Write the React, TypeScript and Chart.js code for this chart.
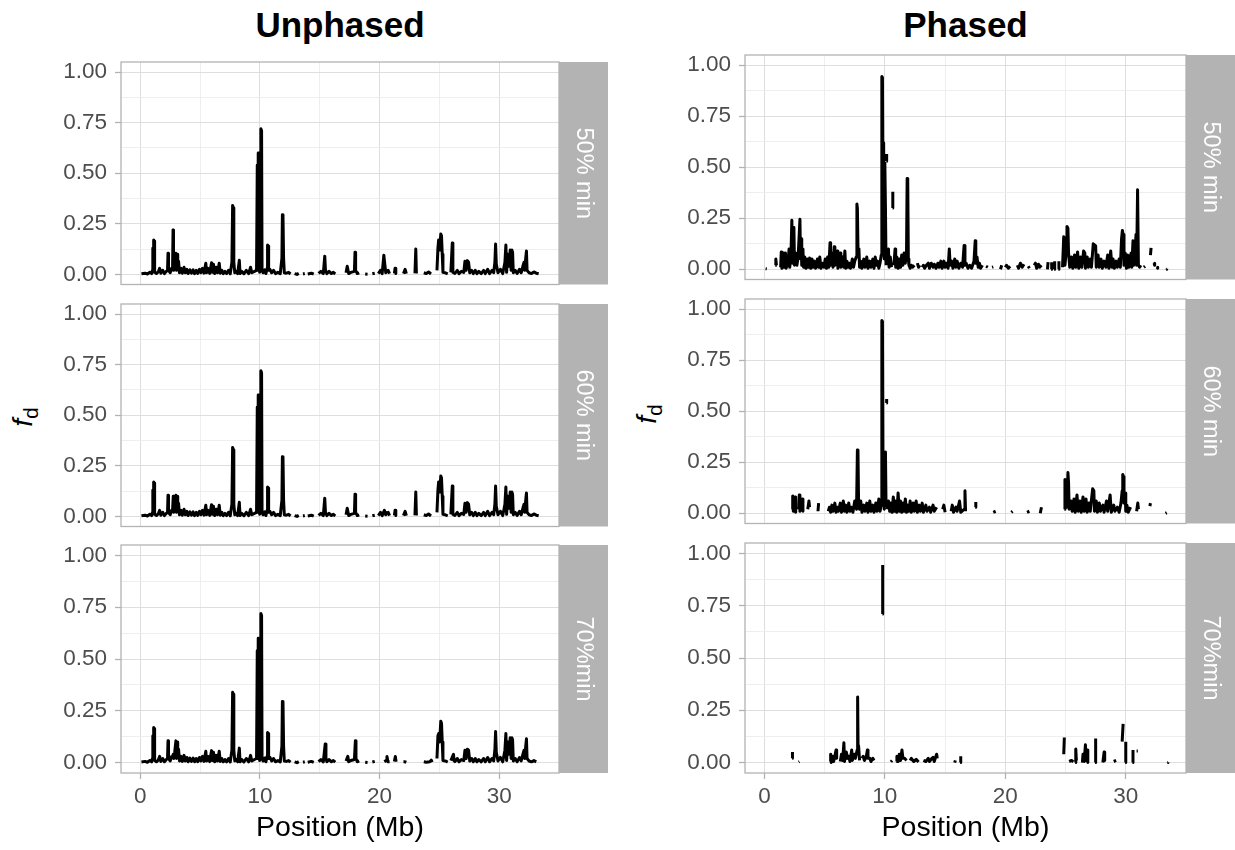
import React, { useEffect, useRef } from 'react';
import { Chart, registerables } from 'chart.js';

Chart.register(...registerables);

type Pt = [number, number | null];

// ---- axis / label data ----
const X_MAJOR = [0, 10, 20, 30];
const X_MINOR = [5, 15, 25];
const Y_MAJOR = [0, 0.25, 0.5, 0.75, 1];
const Y_MINOR = [0.125, 0.375, 0.625, 0.875];
const X_LIMITS = [-1.61, 35.0];
const Y_LIMITS = [-0.05, 1.05];
const STRIPS = ['50% min', '60% min', '70%min'];
const COLUMN_TITLES = ['Unphased', 'Phased'];
const X_TITLE = 'Position (Mb)';

// ---- series: [position (Mb), fd]; null = gap ----
const UNPHASED_50: Pt[] = [
  [0.1,0.003],[0.4,0.006],[0.6,0.002],[0.8,0.01],[0.95,0.004],[1.02,0.02],[1.05,0.13],[1.08,0.02],[1.12,0.17],[1.16,0.165],[1.2,0.01],[1.35,0.004],[1.5,0.012],[1.62,0.03],[1.72,0.006],[1.88,0.02],[2.02,0.004],[2.18,0.015],[2.28,0.02],[2.32,0.105],[2.36,0.02],[2.5,0.008],[2.62,0.03],[2.7,0.03],[2.74,0.22],[2.78,0.02],[2.88,0.05],[2.98,0.105],[3.03,0.02],[3.08,0.1],[3.13,0.04],[3.2,0.065],[3.28,0.008],[3.42,0.03],[3.52,0.006],[3.66,0.035],[3.76,0.008],[3.9,0.025],[4.0,0.004],[4.15,0.022],[4.28,0.006],[4.42,0.022],[4.54,0.004],[4.68,0.02],[4.8,0.005],[4.95,0.025],[5.06,0.008],[5.2,0.03],[5.32,0.006],[5.48,0.055],[5.54,0.008],[5.66,0.03],[5.8,0.005],[5.96,0.058],[6.02,0.01],[6.12,0.05],[6.22,0.004],[6.36,0.035],[6.46,0.008],[6.6,0.055],[6.68,0.006],[6.82,0.02],[6.94,0.004],[7.08,0.015],[7.22,0.004],[7.38,0.02],[7.52,0.003],[7.66,0.06],[7.72,0.34],[7.78,0.33],[7.82,0.06],[7.9,0.008],[8.02,0.015],[8.14,0.004],[8.28,0.07],[8.34,0.004],[8.48,0.015],[8.66,0.003],[8.86,0.02],[9.06,0.004],[9.22,0.035],[9.32,0.008],[9.55,0.015],[9.72,0.02],[9.78,0.54],[9.82,0.02],[9.86,0.6],[9.9,0.28],[9.94,0.59],[9.98,0.01],[10.03,0.55],[10.08,0.72],[10.14,0.71],[10.18,0.02],[10.26,0.008],[10.4,0.022],[10.5,0.004],[10.6,0.03],[10.64,0.145],[10.69,0.14],[10.73,0.02],[10.84,0.025],[10.98,0.008],[11.14,0.02],[11.3,0.004],[11.5,0.01],[11.7,0.003],[11.84,0.08],[11.88,0.295],[11.93,0.29],[11.98,0.08],[12.04,0.008],[12.2,0.006],[12.4,0.01],[12.56,0.002],
  [12.7,null],[12.9,0.004],[13.1,0.0],[13.25,0.005],[13.3,null],[13.6,0.002],[13.75,0.004],[13.8,null],[14.0,0.002],[14.3,0.006],[14.5,0.001],[14.6,null],[14.9,0.005],[15.1,0.015],[15.3,0.004],[15.42,0.09],[15.48,0.02],[15.6,0.004],[15.78,0.015],[15.98,0.004],[16.14,0.01],[16.3,0.002],[16.5,null],[17.2,0.008],[17.3,0.04],[17.42,0.004],[17.6,0.01],[17.9,0.015],[17.95,0.11],[18.0,0.02],[18.14,0.004],[18.3,0.008],[18.5,null],[18.8,0.002],[19.0,0.001],[19.2,null],[19.4,0.003],[19.6,0.006],[19.7,null],[19.9,0.004],[20.08,0.02],[20.22,0.004],[20.36,0.095],[20.42,0.06],[20.52,0.008],[20.72,0.02],[20.84,0.004],[21.0,null],[21.24,0.005],[21.3,0.03],[21.36,0.004],[21.6,null],[22.0,0.004],[22.14,0.025],[22.24,0.004],[22.5,null],[22.96,0.005],[23.03,0.125],[23.08,0.004],[23.3,null],[23.7,0.008],[23.9,0.004],[24.1,0.012],[24.3,0.002],[24.5,null],
  [24.8,0.02],[24.88,0.13],[24.94,0.17],[25.02,0.12],[25.12,0.2],[25.18,0.19],[25.24,0.1],[25.3,0.01],[25.5,0.008],[25.7,0.003],[25.8,null],[25.96,0.01],[26.08,0.155],[26.13,0.01],[26.3,0.005],[26.5,0.02],[26.64,0.004],[26.84,0.015],[27.04,0.01],[27.14,0.065],[27.24,0.02],[27.34,0.068],[27.44,0.06],[27.54,0.008],[27.7,0.02],[27.84,0.004],[28.0,0.02],[28.14,0.004],[28.3,0.015],[28.5,0.004],[28.7,0.02],[28.84,0.004],[29.04,0.025],[29.2,0.004],[29.4,0.02],[29.54,0.008],[29.64,0.06],[29.7,0.15],[29.76,0.05],[29.9,0.008],[30.1,0.025],[30.3,0.004],[30.48,0.06],[30.56,0.145],[30.62,0.01],[30.72,0.1],[30.82,0.04],[30.92,0.12],[31.0,0.02],[31.06,0.12],[31.12,0.11],[31.18,0.008],[31.34,0.02],[31.5,0.004],[31.7,0.025],[31.84,0.008],[31.98,0.04],[32.08,0.06],[32.14,0.02],[32.22,0.08],[32.28,0.116],[32.33,0.02],[32.5,0.008],[32.7,0.004],[32.9,0.012],[33.1,0.006],[33.3,0.003],
];

const UNPHASED_60: Pt[] = [
  [0.1,0.003],[0.4,0.006],[0.6,0.002],[0.8,0.01],[0.95,0.004],[1.02,0.02],[1.05,0.13],[1.08,0.02],[1.12,0.17],[1.16,0.165],[1.2,0.01],[1.35,0.004],[1.5,0.012],[1.62,0.03],[1.72,0.006],[1.88,0.02],[2.02,0.004],[2.18,0.015],[2.28,0.02],[2.32,0.105],[2.36,0.02],[2.5,0.008],[2.62,0.03],[2.7,0.03],[2.76,0.1],[2.8,0.02],[2.88,0.05],[2.98,0.105],[3.03,0.02],[3.08,0.1],[3.13,0.04],[3.2,0.065],[3.28,0.008],[3.42,0.03],[3.52,0.006],[3.66,0.035],[3.76,0.008],[3.9,0.025],[4.0,0.004],[4.15,0.022],[4.28,0.006],[4.42,0.022],[4.54,0.004],[4.68,0.02],[4.8,0.005],[4.95,0.025],[5.06,0.008],[5.2,0.03],[5.32,0.006],[5.48,0.055],[5.54,0.008],[5.66,0.03],[5.8,0.005],[5.96,0.058],[6.02,0.01],[6.12,0.05],[6.22,0.004],[6.36,0.035],[6.46,0.008],[6.6,0.055],[6.68,0.006],[6.82,0.02],[6.94,0.004],[7.08,0.015],[7.22,0.004],[7.38,0.02],[7.52,0.003],[7.66,0.06],[7.72,0.34],[7.78,0.33],[7.82,0.06],[7.9,0.008],[8.02,0.015],[8.14,0.004],[8.28,0.07],[8.34,0.004],[8.48,0.015],[8.66,0.003],[8.86,0.02],[9.06,0.004],[9.22,0.035],[9.32,0.008],[9.55,0.015],[9.72,0.02],[9.78,0.54],[9.82,0.02],[9.86,0.6],[9.9,0.28],[9.94,0.59],[9.98,0.01],[10.03,0.55],[10.08,0.72],[10.14,0.71],[10.18,0.02],[10.26,0.008],[10.4,0.022],[10.5,0.004],[10.6,0.03],[10.64,0.145],[10.69,0.14],[10.73,0.02],[10.84,0.025],[10.98,0.008],[11.14,0.02],[11.3,0.004],[11.5,0.01],[11.7,0.003],[11.84,0.08],[11.88,0.295],[11.93,0.29],[11.98,0.08],[12.04,0.008],[12.2,0.006],[12.4,0.01],[12.56,0.002],
  [12.7,null],[12.9,0.004],[13.1,0.0],[13.25,0.005],[13.3,null],[13.6,0.002],[13.75,0.004],[13.8,null],[14.0,0.002],[14.3,0.006],[14.5,0.001],[14.6,null],[14.9,0.005],[15.1,0.015],[15.3,0.004],[15.42,0.09],[15.48,0.02],[15.6,0.004],[15.78,0.015],[15.98,0.004],[16.14,0.01],[16.3,0.002],[16.5,null],[17.2,0.008],[17.3,0.04],[17.42,0.004],[17.6,0.01],[17.9,0.015],[17.95,0.11],[18.0,0.02],[18.14,0.004],[18.3,0.008],[18.5,null],[18.8,0.002],[19.0,0.001],[19.2,null],[19.4,0.003],[19.6,0.006],[19.7,null],[19.9,0.004],[20.08,0.02],[20.22,0.004],[20.4,0.03],[20.46,0.02],[20.52,0.008],[20.72,0.02],[20.84,0.004],[21.0,null],[21.24,0.005],[21.3,0.03],[21.36,0.004],[21.6,null],[22.0,0.004],[22.14,0.025],[22.24,0.004],[22.5,null],[22.96,0.005],[23.03,0.12],[23.08,0.004],[23.3,null],[23.7,0.008],[23.9,0.004],[24.1,0.012],[24.3,0.002],[24.5,null],
  [24.8,0.02],[24.88,0.13],[24.94,0.17],[25.02,0.12],[25.12,0.2],[25.18,0.19],[25.24,0.1],[25.3,0.01],[25.5,0.008],[25.7,0.003],[25.8,null],[25.96,0.01],[26.08,0.15],[26.13,0.01],[26.3,0.005],[26.5,0.02],[26.64,0.004],[26.84,0.015],[27.04,0.01],[27.14,0.065],[27.24,0.02],[27.34,0.068],[27.44,0.06],[27.54,0.008],[27.7,0.02],[27.84,0.004],[28.0,0.02],[28.14,0.004],[28.3,0.015],[28.5,0.004],[28.7,0.02],[28.84,0.004],[29.04,0.025],[29.2,0.004],[29.4,0.02],[29.54,0.008],[29.64,0.06],[29.7,0.15],[29.76,0.05],[29.9,0.008],[30.1,0.025],[30.3,0.004],[30.48,0.06],[30.56,0.145],[30.62,0.01],[30.72,0.1],[30.82,0.04],[30.92,0.12],[31.0,0.02],[31.06,0.12],[31.12,0.11],[31.18,0.008],[31.34,0.02],[31.5,0.004],[31.7,0.025],[31.84,0.008],[31.98,0.04],[32.08,0.06],[32.14,0.02],[32.22,0.08],[32.28,0.116],[32.33,0.02],[32.5,0.008],[32.7,0.004],[32.9,0.012],[33.1,0.006],[33.3,0.003],
];

const UNPHASED_70: Pt[] = [
  [0.1,0.003],[0.4,0.006],[0.6,0.002],[0.8,0.01],[0.95,0.004],[1.02,0.02],[1.05,0.13],[1.08,0.02],[1.12,0.17],[1.16,0.165],[1.2,0.01],[1.35,0.004],[1.5,0.012],[1.62,0.03],[1.72,0.006],[1.88,0.02],[2.02,0.004],[2.18,0.015],[2.28,0.02],[2.32,0.105],[2.36,0.02],[2.5,0.008],[2.62,0.03],[2.7,0.03],[2.76,0.04],[2.8,0.02],[2.88,0.05],[2.98,0.105],[3.03,0.02],[3.08,0.1],[3.13,0.04],[3.2,0.065],[3.28,0.008],[3.42,0.03],[3.52,0.006],[3.66,0.035],[3.76,0.008],[3.9,0.025],[4.0,0.004],[4.15,0.022],[4.28,0.006],[4.42,0.022],[4.54,0.004],[4.68,0.02],[4.8,0.005],[4.95,0.025],[5.06,0.008],[5.2,0.03],[5.32,0.006],[5.48,0.055],[5.54,0.008],[5.66,0.03],[5.8,0.005],[5.96,0.058],[6.02,0.01],[6.12,0.05],[6.22,0.004],[6.36,0.035],[6.46,0.008],[6.6,0.055],[6.68,0.006],[6.82,0.02],[6.94,0.004],[7.08,0.015],[7.22,0.004],[7.38,0.02],[7.52,0.003],[7.66,0.06],[7.72,0.34],[7.78,0.33],[7.82,0.06],[7.9,0.008],[8.02,0.015],[8.14,0.004],[8.28,0.07],[8.34,0.004],[8.48,0.015],[8.66,0.003],[8.86,0.02],[9.06,0.004],[9.22,0.035],[9.32,0.008],[9.55,0.015],[9.72,0.02],[9.78,0.54],[9.82,0.02],[9.86,0.6],[9.9,0.28],[9.94,0.59],[9.98,0.01],[10.03,0.55],[10.08,0.72],[10.14,0.71],[10.18,0.02],[10.26,0.008],[10.4,0.022],[10.5,0.004],[10.6,0.03],[10.64,0.145],[10.69,0.14],[10.73,0.02],[10.84,0.025],[10.98,0.008],[11.14,0.02],[11.3,0.004],[11.5,0.01],[11.7,0.003],[11.84,0.08],[11.88,0.295],[11.93,0.29],[11.98,0.08],[12.04,0.008],[12.2,0.006],[12.4,0.01],[12.56,0.002],
  [12.7,null],[12.9,0.004],[13.1,0.0],[13.25,0.005],[13.3,null],[13.6,0.002],[13.75,0.004],[13.8,null],[14.0,0.002],[14.3,0.006],[14.5,0.001],[14.6,null],[14.9,0.005],[15.1,0.015],[15.3,0.004],[15.46,0.09],[15.52,0.02],[15.6,0.004],[15.78,0.015],[15.98,0.004],[16.14,0.01],[16.3,0.002],[16.5,null],[17.2,0.008],[17.35,0.03],[17.42,0.004],[17.6,0.01],[17.9,0.015],[17.98,0.105],[18.03,0.02],[18.14,0.004],[18.3,0.008],[18.5,null],[18.8,0.002],[19.0,0.001],[19.2,null],[19.4,0.003],[19.6,0.006],[19.7,null],[20.4,0.004],[20.55,0.01],[20.62,0.03],[20.7,0.004],[20.84,0.004],[21.0,null],[21.24,0.005],[21.32,0.03],[21.38,0.004],[21.6,null],[22.0,0.004],[22.14,0.004],[22.24,0.002],[22.5,null],[23.7,0.004],[23.9,0.002],[24.2,0.004],[24.32,0.012],[24.4,0.002],[24.5,null],
  [24.8,0.02],[24.88,0.13],[24.94,0.14],[25.02,0.1],[25.12,0.2],[25.18,0.19],[25.24,0.1],[25.3,0.01],[25.5,0.008],[25.7,0.003],[25.8,null],[25.96,0.01],[26.18,0.04],[26.23,0.01],[26.3,0.005],[26.5,0.02],[26.64,0.004],[26.84,0.015],[27.04,0.01],[27.14,0.06],[27.24,0.02],[27.34,0.065],[27.44,0.06],[27.54,0.008],[27.7,0.02],[27.84,0.004],[28.0,0.02],[28.14,0.004],[28.3,0.015],[28.5,0.004],[28.7,0.02],[28.84,0.004],[29.04,0.025],[29.2,0.004],[29.4,0.02],[29.54,0.008],[29.64,0.06],[29.7,0.15],[29.76,0.05],[29.9,0.008],[30.1,0.025],[30.3,0.004],[30.48,0.06],[30.56,0.14],[30.62,0.01],[30.72,0.1],[30.82,0.04],[30.92,0.12],[31.0,0.02],[31.06,0.12],[31.12,0.11],[31.18,0.008],[31.34,0.02],[31.5,0.004],[31.7,0.025],[31.84,0.008],[31.98,0.04],[32.08,0.06],[32.14,0.02],[32.22,0.08],[32.28,0.115],[32.33,0.02],[32.5,0.008],[32.7,0.004],[32.9,0.01],[33.1,0.004],
];

const PHASED_50: Pt[] = [
  [0.1,0.003],[0.2,0.002],[0.3,null],
  [0.9,0.02],[0.95,0.05],[1.0,0.02],[1.1,null],
  [1.35,0.01],[1.4,0.085],[1.45,0.005],[1.55,0.08],[1.6,0.01],[1.75,0.08],[1.8,0.005],[1.95,0.03],[2.05,0.1],[2.1,0.01],[2.2,0.06],[2.28,0.24],[2.33,0.03],[2.4,0.16],[2.45,0.205],[2.5,0.02],[2.6,0.08],[2.7,0.02],[2.8,0.06],[2.95,0.245],[3.0,0.05],[3.05,0.15],[3.1,0.02],[3.2,0.1],[3.25,0.01],[3.35,0.06],[3.45,0.005],[3.55,0.05],[3.65,0.01],[3.75,0.055],[3.85,0.005],[3.95,0.05],[4.05,0.01],[4.15,0.04],[4.25,0.005],[4.4,0.05],[4.5,0.01],[4.6,0.06],[4.7,0.005],[4.85,0.03],[4.95,0.01],[5.05,0.05],[5.15,0.005],[5.25,0.06],[5.35,0.01],[5.45,0.13],[5.5,0.02],[5.6,0.08],[5.7,0.01],[5.8,0.11],[5.85,0.02],[5.95,0.06],[6.05,0.09],[6.1,0.005],[6.2,0.07],[6.3,0.08],[6.35,0.01],[6.5,0.06],[6.6,0.01],[6.68,0.09],[6.75,0.005],[6.85,0.04],[6.95,0.01],[7.05,0.03],[7.15,0.005],[7.3,0.05],[7.4,0.01],[7.5,0.04],[7.62,0.06],[7.68,0.32],[7.72,0.3],[7.78,0.06],[7.85,0.1],[7.9,0.01],[8.0,0.04],[8.1,0.005],[8.25,0.05],[8.35,0.01],[8.5,0.06],[8.6,0.005],[8.75,0.04],[8.85,0.01],[9.0,0.05],[9.1,0.005],[9.2,0.06],[9.3,0.02],[9.4,0.04],[9.5,0.005],[9.6,0.03],[9.7,0.07],[9.75,0.945],[9.8,0.94],[9.85,0.3],[9.9,0.62],[9.95,0.05],[10.0,0.52],[10.05,0.3],[10.1,0.02],[10.11,null],
  [10.13,0.53],[10.15,0.565],[10.17,null],
  [10.2,0.02],[10.3,0.1],[10.35,0.01],[10.45,0.06],[10.55,0.01],[10.6,null],
  [10.64,0.3],[10.66,0.38],[10.7,null],
  [10.75,0.02],[10.85,0.1],[10.9,0.01],[11.0,0.06],[11.1,0.005],[11.2,0.05],[11.3,0.01],[11.4,0.07],[11.5,0.02],[11.6,0.08],[11.7,0.03],[11.8,0.09],[11.85,0.445],[11.9,0.44],[11.95,0.05],[12.0,0.02],[12.1,0.005],[12.2,0.02],[12.3,0.01],[12.45,0.02],[12.55,null],
  [12.7,0.03],[12.8,0.01],[12.9,0.02],[13.0,null],
  [13.1,0.01],[13.2,0.02],[13.3,0.005],[13.45,0.02],[13.6,0.03],[13.7,0.005],[13.85,0.03],[14.0,0.01],[14.1,0.025],[14.25,0.005],[14.4,0.03],[14.5,0.01],[14.65,0.04],[14.75,0.005],[14.9,0.04],[15.0,0.01],[15.1,0.03],[15.25,0.005],[15.35,0.1],[15.42,0.02],[15.55,0.04],[15.65,0.005],[15.8,0.05],[15.9,0.01],[16.0,0.04],[16.15,0.005],[16.3,0.03],[16.45,0.01],[16.58,0.117],[16.65,0.02],[16.75,0.03],[16.9,0.005],[17.05,0.02],[17.2,0.005],[17.4,0.04],[17.5,0.14],[17.55,0.03],[17.65,0.06],[17.75,0.01],[17.85,0.03],[17.95,0.005],[18.1,0.02],[18.2,null],
  [18.4,0.015],[18.55,0.01],[18.7,null],[18.9,0.01],[19.0,0.012],[19.1,null],[19.6,0.0],[19.7,0.02],[19.8,null],
  [20.0,0.01],[20.1,0.02],[20.25,0.005],[20.4,0.015],[20.6,null],
  [21.0,0.02],[21.1,0.005],[21.25,0.03],[21.4,0.01],[21.55,0.025],[21.7,null],[21.9,0.015],[22.0,0.005],[22.2,null],
  [22.4,0.02],[22.5,0.03],[22.6,0.005],[22.75,0.025],[22.85,0.01],[23.0,0.02],[23.2,null],
  [23.5,0.0],[23.55,0.035],[23.6,null],[23.8,0.0],[23.85,0.035],[23.9,null],[24.05,0.0],[24.1,0.04],[24.2,null],[24.4,0.0],[24.45,0.04],[24.6,null],
  [24.75,0.01],[24.85,0.16],[24.9,0.155],[24.95,0.02],[25.05,0.08],[25.12,0.21],[25.2,0.2],[25.25,0.08],[25.35,0.01],[25.5,0.06],[25.6,0.005],[25.75,0.07],[25.85,0.01],[26.0,0.085],[26.1,0.005],[26.25,0.06],[26.35,0.01],[26.5,0.09],[26.6,0.08],[26.65,0.005],[26.8,0.06],[26.9,0.01],[27.05,0.05],[27.15,0.01],[27.3,0.125],[27.4,0.12],[27.5,0.115],[27.55,0.01],[27.7,0.07],[27.8,0.01],[27.95,0.05],[28.05,0.005],[28.2,0.04],[28.35,0.01],[28.5,0.07],[28.6,0.005],[28.75,0.09],[28.85,0.01],[28.95,0.05],[29.05,0.005],[29.2,0.04],[29.3,0.01],[29.45,0.05],[29.55,0.01],[29.65,0.15],[29.72,0.19],[29.78,0.17],[29.85,0.02],[29.95,0.08],[30.05,0.005],[30.15,0.07],[30.25,0.01],[30.35,0.06],[30.45,0.08],[30.5,0.01],[30.6,0.14],[30.65,0.02],[30.75,0.07],[30.85,0.17],[30.9,0.02],[30.98,0.39],[31.05,0.02],[31.15,0.01],[31.25,0.02],[31.35,null],
  [31.5,0.01],[31.6,0.015],[31.8,null],[32.05,0.07],[32.1,0.105],[32.2,null],[32.35,0.03],[32.4,0.02],[32.5,null],[32.6,0.01],[32.65,0.005],[32.8,null],[33.35,0.0],[33.4,0.003],
];

const PHASED_60: Pt[] = [
  [2.3,0.02],[2.35,0.085],[2.4,0.01],[2.55,0.08],[2.6,0.005],[2.7,null],
  [2.85,0.02],[2.9,0.09],[2.95,0.01],[3.05,0.06],[3.15,0.07],[3.2,0.01],[3.3,null],
  [3.6,0.02],[3.7,0.06],[3.75,0.03],[3.8,null],[4.45,0.01],[4.5,0.05],[4.6,null],
  [5.3,0.01],[5.4,0.03],[5.5,0.005],[5.6,0.04],[5.7,0.01],[5.85,0.05],[5.95,0.005],[6.05,0.03],[6.15,0.01],[6.3,0.05],[6.4,0.005],[6.55,0.06],[6.65,0.01],[6.75,0.04],[6.85,0.005],[7.0,0.05],[7.1,0.01],[7.2,0.03],[7.35,0.005],[7.5,0.06],[7.65,0.02],[7.72,0.31],[7.77,0.3],[7.82,0.05],[7.9,0.02],[8.0,0.06],[8.1,0.005],[8.25,0.04],[8.35,0.01],[8.5,0.05],[8.6,0.005],[8.75,0.06],[8.85,0.01],[9.0,0.04],[9.1,0.005],[9.25,0.05],[9.35,0.01],[9.5,0.07],[9.6,0.01],[9.7,0.04],[9.75,0.945],[9.8,0.94],[9.85,0.05],[9.9,0.3],[9.95,0.02],[10.05,0.3],[10.1,0.03],[10.11,null],
  [10.13,0.54],[10.15,0.56],[10.17,null],
  [10.2,0.02],[10.3,0.06],[10.4,0.01],[10.5,0.05],[10.6,0.005],[10.7,0.08],[10.8,0.01],[10.9,0.06],[11.0,0.005],[11.1,0.1],[11.2,0.01],[11.3,0.06],[11.4,0.005],[11.5,0.05],[11.6,0.01],[11.7,0.07],[11.8,0.005],[11.9,0.04],[12.0,0.01],[12.1,0.06],[12.2,0.005],[12.35,0.05],[12.45,0.01],[12.6,0.06],[12.7,0.005],[12.85,0.04],[12.95,0.01],[13.1,0.05],[13.2,0.005],[13.4,0.04],[13.5,0.01],[13.7,0.03],[13.8,0.005],[14.0,0.04],[14.1,0.01],[14.3,0.03],[14.5,null],
  [14.8,0.02],[14.9,0.04],[15.0,0.005],[15.2,null],
  [15.5,0.01],[15.6,0.04],[15.7,0.005],[15.9,0.03],[16.0,0.01],[16.2,0.06],[16.3,0.005],[16.6,0.02],[16.65,0.11],[16.7,0.01],[16.9,null],
  [17.5,0.03],[17.55,0.055],[17.7,null],[19.0,0.005],[19.2,0.01],[19.4,null],[20.5,0.005],[20.6,0.01],[20.8,null],[21.8,0.005],[22.0,0.01],[22.2,null],[22.9,0.0],[23.0,0.03],[23.2,null],
  [24.9,0.02],[24.95,0.165],[25.0,0.1],[25.1,0.03],[25.2,0.2],[25.25,0.15],[25.3,0.02],[25.45,0.06],[25.55,0.01],[25.7,0.07],[25.8,0.005],[25.95,0.09],[26.05,0.01],[26.2,0.06],[26.3,0.005],[26.45,0.08],[26.55,0.01],[26.7,0.07],[26.8,0.005],[26.95,0.05],[27.05,0.01],[27.25,0.12],[27.35,0.11],[27.4,0.01],[27.55,0.06],[27.65,0.005],[27.8,0.05],[27.9,0.01],[28.1,0.04],[28.2,0.005],[28.4,0.06],[28.5,0.01],[28.7,0.09],[28.8,0.005],[29.0,0.04],[29.1,0.01],[29.3,0.03],[29.45,0.005],[29.6,0.05],[29.7,0.11],[29.75,0.19],[29.8,0.18],[29.85,0.05],[29.95,0.1],[30.0,0.01],[30.1,0.04],[30.2,0.005],[30.4,0.03],[30.6,null],
  [30.9,0.01],[31.0,0.05],[31.05,0.02],[31.2,null],[32.0,0.035],[32.05,0.05],[32.2,null],[33.3,0.0],[33.4,0.003],
];

const PHASED_70: Pt[] = [
  [2.3,0.02],[2.33,0.05],[2.4,null],[2.85,0.003],[2.9,0.005],[3.0,null],
  [5.45,0.005],[5.5,0.04],[5.55,0.0],[5.65,0.03],[5.75,0.005],[5.95,0.06],[6.0,0.02],[6.1,null],
  [6.3,0.005],[6.4,0.04],[6.5,0.01],[6.6,0.095],[6.65,0.005],[6.8,0.05],[6.9,0.02],[7.0,0.03],[7.1,0.005],[7.25,0.06],[7.3,0.01],[7.45,0.04],[7.55,0.02],[7.7,0.06],[7.74,0.313],[7.78,0.06],[7.82,0.08],[7.9,0.01],[8.0,null],
  [8.1,0.02],[8.2,0.03],[8.3,0.01],[8.45,0.025],[8.55,0.06],[8.6,0.02],[8.75,0.02],[8.85,0.005],[9.0,0.02],[9.1,0.01],[9.3,null],
  [9.8,0.71],[9.82,0.945],[9.9,null],
  [10.5,0.003],[10.6,0.01],[10.8,null],
  [10.95,0.005],[11.0,0.03],[11.1,0.005],[11.2,0.04],[11.3,0.01],[11.42,0.06],[11.5,0.02],[11.65,0.02],[11.8,0.01],[11.95,null],
  [12.1,0.01],[12.2,0.02],[12.4,0.005],[12.6,0.015],[12.8,0.003],[13.0,null],
  [13.2,0.01],[13.4,0.005],[13.6,0.02],[13.7,0.005],[13.9,0.02],[14.0,0.025],[14.1,0.005],[14.3,0.04],[14.35,0.02],[14.5,null],
  [15.8,0.0],[15.85,0.01],[16.0,null],[16.25,0.0],[16.3,0.03],[16.4,null],
  [24.85,0.04],[24.9,0.12],[25.0,null],[25.3,0.005],[25.5,0.01],[25.65,0.003],[25.7,null],
  [25.8,0.0],[25.85,0.065],[25.9,0.01],[26.0,null],
  [26.4,0.0],[26.45,0.04],[26.55,0.005],[26.65,0.085],[26.7,0.01],[26.8,0.06],[26.85,0.0],[27.0,null],
  [27.45,0.0],[27.5,0.115],[27.6,null],[28.1,0.0],[28.2,0.05],[28.25,0.01],[28.4,null],
  [29.0,0.005],[29.2,0.01],[29.4,null],[29.7,0.1],[29.78,0.185],[29.85,null],[29.95,0.0],[30.0,0.1],[30.1,null],
  [30.55,0.0],[30.6,0.06],[30.7,null],[30.9,0.055],[31.0,0.055],[31.1,null],[33.45,0.0],[33.5,0.002],
];

// ---- styling ----
const FAMILY = '"Liberation Sans", Arial, Helvetica, sans-serif';
const TICK_FONT = 22.5;
const STRIP_FONT = 23.5;
const AXIS_TITLE_FONT = 28.5;
const TITLE_FONT = 35;
const TICK_TEXT = '#4D4D4D';
const GREY70 = '#B3B3B3';
const GRID_MAJOR = '#DEDEDE';
const GRID_MINOR = '#EEEEEE';
const STRIP_W = 49;
const Y_AXIS_W = 121;
const PAD_TOP = 24;
const PAGE_H = 850;
const LINE_W = 3;

const X_ALL = [...X_MAJOR, ...X_MINOR].sort((a, b) => a - b);
const Y_ALL = [...Y_MAJOR, ...Y_MINOR].sort((a, b) => a - b);

const panelDecor = {
  id: 'panelDecor',
  afterDraw(chart: any, _args: any, opts: any) {
    const { ctx, chartArea: a } = chart;
    ctx.save();
    ctx.fillStyle = GREY70;
    ctx.fillRect(a.right, a.top, STRIP_W, a.bottom - a.top);
    ctx.strokeStyle = GREY70;
    ctx.lineWidth = 1.3;
    ctx.strokeRect(a.left, a.top, a.right - a.left, a.bottom - a.top);
    ctx.translate(a.right + STRIP_W / 2, (a.top + a.bottom) / 2);
    ctx.rotate(Math.PI / 2);
    ctx.fillStyle = '#FFFFFF';
    ctx.font = `${STRIP_FONT}px ${FAMILY}`;
    ctx.textAlign = 'center';
    ctx.textBaseline = 'middle';
    ctx.fillText(opts.label, 0, 0);
    ctx.restore();
  },
};

type PanelProps = {
  data: Pt[];
  strip: string;
  canvasLeft: number;
  canvasWidth: number;
  plotTop: number;
  plotHeight: number;
  bottom: boolean;
};

function Panel({ data, strip, canvasLeft, canvasWidth, plotTop, plotHeight, bottom }: PanelProps) {
  const ref = useRef<HTMLCanvasElement>(null);
  const axisH = bottom ? PAGE_H - (plotTop + plotHeight) : 0;
  const padBottom = bottom ? 0 : 16;
  const canvasTop = plotTop - PAD_TOP;
  const canvasHeight = PAD_TOP + plotHeight + axisH + padBottom;

  useEffect(() => {
    if (!ref.current) return;
    const isMajorX = (v: number) => X_MAJOR.includes(v);
    const isMajorY = (v: number) => Y_MAJOR.includes(v);
    const chart = new Chart(ref.current, {
      type: 'line',
      data: {
        datasets: [
          {
            data: data.map(([x, y]) => ({ x, y })) as any,
            borderColor: '#000000',
            borderWidth: LINE_W,
            pointRadius: 0,
            pointHoverRadius: 0,
            spanGaps: false,
            tension: 0,
            borderJoinStyle: 'round',
            borderCapStyle: 'butt',
          },
        ],
      },
      options: {
        animation: false,
        responsive: false,
        devicePixelRatio: 1,
        events: [],
        layout: { padding: { top: PAD_TOP, right: STRIP_W, bottom: padBottom, left: 0 } },
        plugins: {
          legend: { display: false },
          tooltip: { enabled: false },
          title: { display: false },
          panelDecor: { label: strip },
        } as any,
        scales: {
          x: {
            type: 'linear',
            min: X_LIMITS[0],
            max: X_LIMITS[1],
            afterBuildTicks: (s: any) => {
              s.ticks = X_ALL.map((v) => ({ value: v }));
            },
            afterFit: (s: any) => {
              s.height = axisH;
            },
            border: { display: false },
            grid: {
              color: (c: any) => (c.tick && isMajorX(c.tick.value) ? GRID_MAJOR : GRID_MINOR),
              lineWidth: 1,
              drawTicks: bottom,
              tickLength: 6,
              tickWidth: 1.3,
              tickColor: (c: any) => (c.tick && isMajorX(c.tick.value) ? GREY70 : 'rgba(0,0,0,0)'),
            },
            ticks: {
              display: bottom,
              autoSkip: false,
              maxRotation: 0,
              padding: 4,
              color: TICK_TEXT,
              font: { size: TICK_FONT, family: FAMILY },
              callback: (v: any) => (isMajorX(Number(v)) ? String(v) : ''),
            },
            title: {
              display: bottom,
              text: X_TITLE,
              color: '#000000',
              font: { size: AXIS_TITLE_FONT, family: FAMILY },
              padding: { top: 0, bottom: 5 },
            },
          },
          y: {
            type: 'linear',
            min: Y_LIMITS[0],
            max: Y_LIMITS[1],
            afterBuildTicks: (s: any) => {
              s.ticks = Y_ALL.map((v) => ({ value: v }));
            },
            afterFit: (s: any) => {
              s.width = Y_AXIS_W;
            },
            border: { display: false },
            grid: {
              color: (c: any) => (c.tick && isMajorY(c.tick.value) ? GRID_MAJOR : GRID_MINOR),
              lineWidth: 1,
              drawTicks: true,
              tickLength: 6,
              tickWidth: 1.3,
              tickColor: (c: any) => (c.tick && isMajorY(c.tick.value) ? GREY70 : 'rgba(0,0,0,0)'),
            },
            ticks: {
              autoSkip: false,
              padding: 8,
              color: TICK_TEXT,
              font: { size: TICK_FONT, family: FAMILY },
              callback: (v: any) => (isMajorY(Number(v)) ? Number(v).toFixed(2) : ''),
            },
          },
        },
      } as any,
      plugins: [panelDecor as any],
    });
    return () => chart.destroy();
  }, [data, strip, axisH, padBottom, bottom]);

  return (
    <canvas
      ref={ref}
      width={canvasWidth}
      height={canvasHeight}
      style={{ position: 'absolute', left: canvasLeft, top: canvasTop, width: canvasWidth, height: canvasHeight }}
    />
  );
}

const COLUMNS = [
  { title: COLUMN_TITLES[0], canvasLeft: 0, canvasWidth: 608, tops: [62, 304, 545], height: 228, series: [UNPHASED_50, UNPHASED_60, UNPHASED_70], yTitleX: 25, yTitleY: 417 },
  { title: COLUMN_TITLES[1], canvasLeft: 624, canvasWidth: 611, tops: [55, 299, 543], height: 230, series: [PHASED_50, PHASED_60, PHASED_70], yTitleX: 649, yTitleY: 414 },
];

export default function App() {
  return (
    <div style={{ position: 'absolute', left: 0, top: 0, width: 1235, height: 850, background: '#FFFFFF', overflow: 'hidden', fontFamily: FAMILY }}>
      {COLUMNS.map((col, ci) => {
        const plotLeft = col.canvasLeft + Y_AXIS_W;
        const plotRight = col.canvasLeft + col.canvasWidth - STRIP_W;
        return (
          <React.Fragment key={ci}>
            <div
              style={{
                position: 'absolute',
                left: plotLeft,
                width: plotRight - plotLeft,
                top: 7,
                height: TITLE_FONT,
                lineHeight: `${TITLE_FONT}px`,
                fontSize: TITLE_FONT,
                fontWeight: 'bold',
                textAlign: 'center',
                color: '#000000',
                whiteSpace: 'nowrap',
              }}
            >
              {col.title}
            </div>
            <div
              style={{
                position: 'absolute',
                left: col.yTitleX,
                top: col.yTitleY,
                transform: 'translate(-50%, -50%) rotate(-90deg)',
                fontSize: AXIS_TITLE_FONT,
                lineHeight: 1,
                color: '#000000',
                whiteSpace: 'nowrap',
              }}
            >
              <span style={{ fontStyle: 'italic' }}>f</span>
              <span style={{ fontSize: '0.72em', verticalAlign: '-0.3em' }}>d</span>
            </div>
            {col.series.map((s, pi) => (
              <Panel
                key={pi}
                data={s}
                strip={STRIPS[pi]}
                canvasLeft={col.canvasLeft}
                canvasWidth={col.canvasWidth}
                plotTop={col.tops[pi]}
                plotHeight={col.height}
                bottom={pi === 2}
              />
            ))}
          </React.Fragment>
        );
      })}
    </div>
  );
}
